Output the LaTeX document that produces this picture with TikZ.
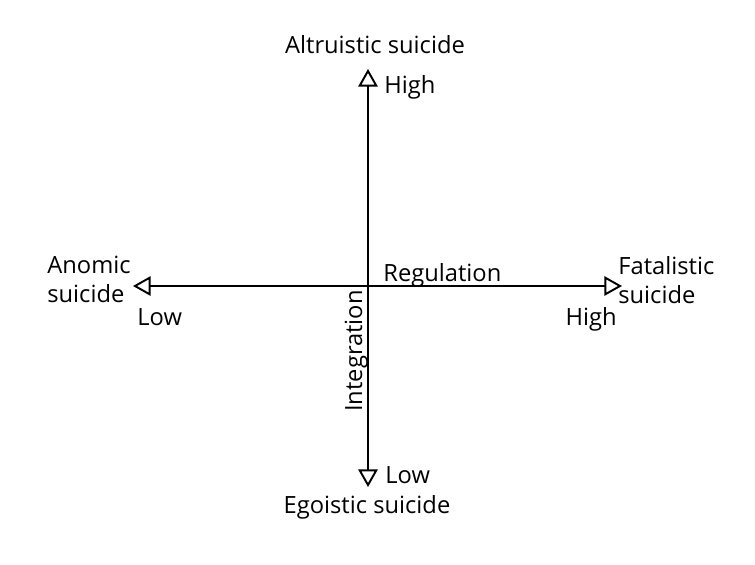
\documentclass[tikz,border=0pt]{standalone}
\usepackage{fontspec}
\setmainfont{Open Sans}
\usetikzlibrary{arrows.meta}

\begin{document}
\begin{tikzpicture}[x=0.02cm,y=-0.02cm,
    every node/.style={inner sep=0pt,font=\fontsize{13.5}{16}\selectfont},
    axis/.style={draw,line width=1.1pt,-{Triangle[open,length=10pt,width=11pt]}}]
                \useasboundingbox (0,0) rectangle (755,565);

                \coordinate (o) at (368,286);
                \coordinate (top) at (368,69);
                \coordinate (bot) at (368,487);
                \coordinate (lft) at (133,286);
                \coordinate (rgt) at (622,286);

                \node[anchor=base] (altr) at (375,53) {Altruistic suicide};
                \node[anchor=base west] (hightop) at (384,93) {High};
                \node[anchor=base west,align=left] (anom) at (47,302) {Anomic\\suicide};
                \node[anchor=base west] (lowlft) at (137,325) {Low};
                \node[anchor=base west,align=left] (fatal) at (618,303) {Fatalistic\\suicide};
                \node[anchor=base east] (highrgt) at (617,325) {High};
                \node[anchor=base west] (lowbot) at (385,483) {Low};
                \node[anchor=base] (ego) at (367,513) {Egoistic suicide};

                \node[anchor=base west] (reg) at (383,281) {Regulation};
                \node[anchor=base,rotate=90] (integ) at (362,351) {Integration};

                \path[axis] (o) -- (top);
                \path[axis] (o) -- (bot);
                \path[axis] (o) -- (lft);
                \path[axis] (o) -- (rgt);

            \end{tikzpicture}
\end{document}
